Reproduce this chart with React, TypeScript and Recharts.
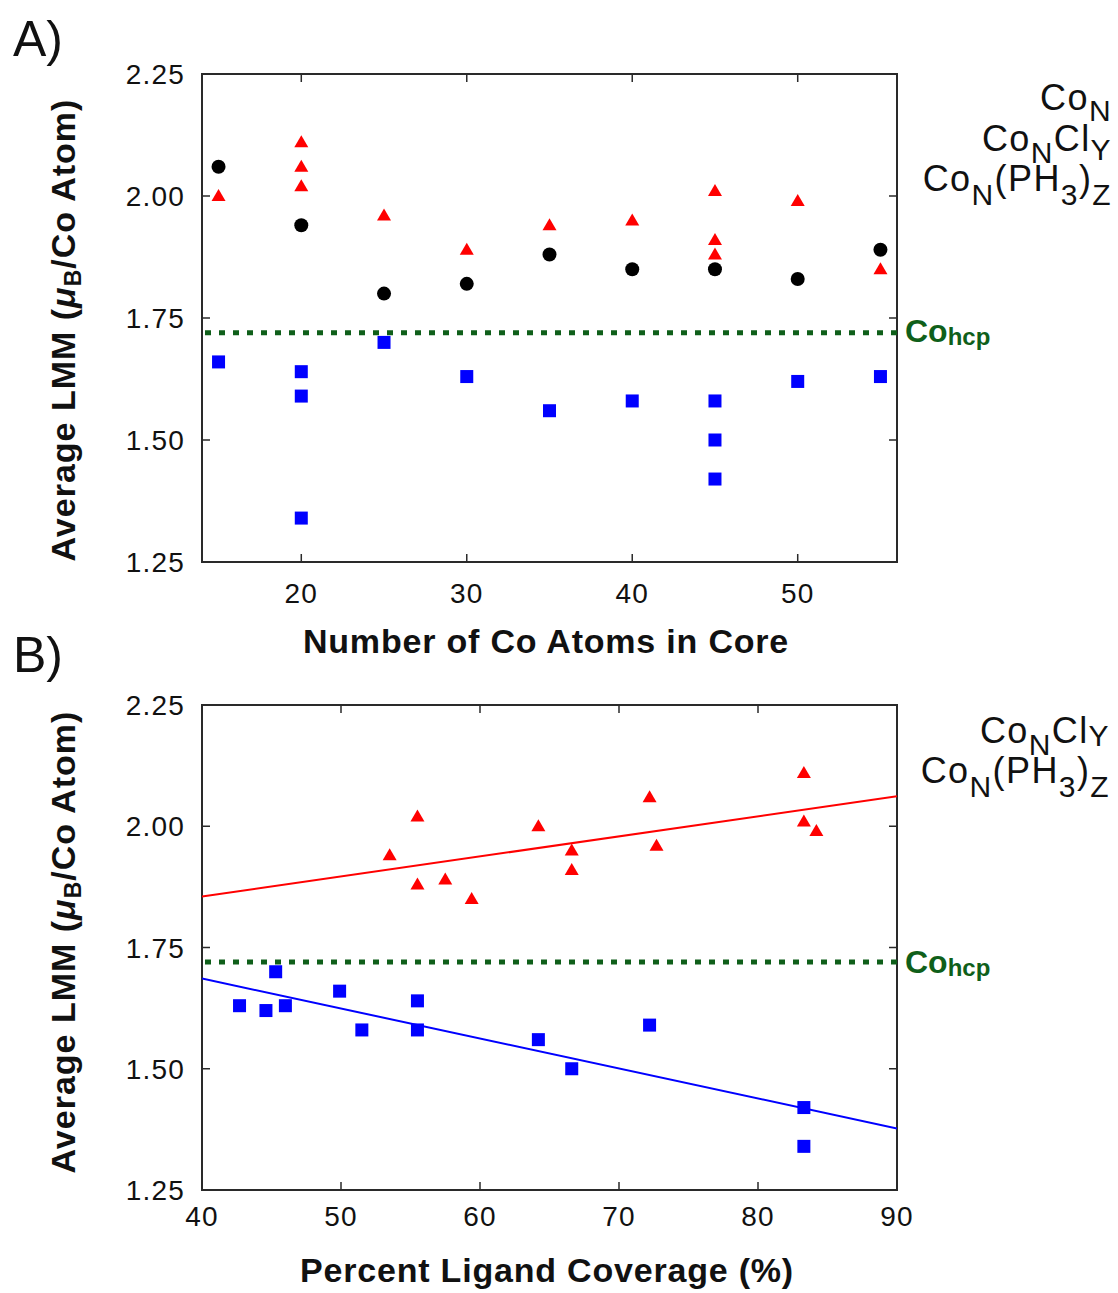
import React from 'react';
import { ReferenceArea, ReferenceLine, Scatter, ScatterChart, XAxis, YAxis } from 'recharts';

const FONT = '"Liberation Sans", Arial, Helvetica, sans-serif';

// shared y axis: average local magnetic moment (muB per Co atom)
const lmmTicks = [1.25, 1.5, 1.75, 2.0, 2.25];
const cobaltHcp = 1.72;

// panel A: LMM vs number of Co atoms in the core
const coreTicks = [20, 30, 40, 50];
const bareCore = [
  { n: 15, lmm: 2.06 }, { n: 20, lmm: 1.94 }, { n: 25, lmm: 1.80 }, { n: 30, lmm: 1.82 },
  { n: 35, lmm: 1.88 }, { n: 40, lmm: 1.85 }, { n: 45, lmm: 1.85 }, { n: 50, lmm: 1.83 },
  { n: 55, lmm: 1.89 },
];
const chlorideCore = [
  { n: 15, lmm: 2.00 }, { n: 20, lmm: 2.11 }, { n: 20, lmm: 2.06 }, { n: 20, lmm: 2.02 },
  { n: 25, lmm: 1.96 }, { n: 30, lmm: 1.89 }, { n: 35, lmm: 1.94 }, { n: 40, lmm: 1.95 },
  { n: 45, lmm: 2.01 }, { n: 45, lmm: 1.91 }, { n: 45, lmm: 1.88 }, { n: 50, lmm: 1.99 },
  { n: 55, lmm: 1.85 },
];
const phosphineCore = [
  { n: 15, lmm: 1.66 }, { n: 20, lmm: 1.64 }, { n: 20, lmm: 1.59 }, { n: 20, lmm: 1.34 },
  { n: 25, lmm: 1.70 }, { n: 30, lmm: 1.63 }, { n: 35, lmm: 1.56 }, { n: 40, lmm: 1.58 },
  { n: 45, lmm: 1.58 }, { n: 45, lmm: 1.50 }, { n: 45, lmm: 1.42 }, { n: 50, lmm: 1.62 },
  { n: 55, lmm: 1.63 },
];

// panel B: LMM vs percent ligand coverage
const coverageTicks = [40, 50, 60, 70, 80, 90];
const chlorideCoverage = [
  { cov: 53.5, lmm: 1.94 }, { cov: 55.5, lmm: 2.02 }, { cov: 55.5, lmm: 1.88 }, { cov: 57.5, lmm: 1.89 },
  { cov: 59.4, lmm: 1.85 }, { cov: 64.2, lmm: 2.00 }, { cov: 66.6, lmm: 1.95 }, { cov: 66.6, lmm: 1.91 },
  { cov: 72.2, lmm: 2.06 }, { cov: 72.7, lmm: 1.96 }, { cov: 83.3, lmm: 2.11 }, { cov: 83.3, lmm: 2.01 },
  { cov: 84.2, lmm: 1.99 },
];
const phosphineCoverage = [
  { cov: 42.7, lmm: 1.63 }, { cov: 44.6, lmm: 1.62 }, { cov: 45.3, lmm: 1.70 }, { cov: 46.0, lmm: 1.63 },
  { cov: 49.9, lmm: 1.66 }, { cov: 51.5, lmm: 1.58 }, { cov: 55.5, lmm: 1.64 }, { cov: 55.5, lmm: 1.58 },
  { cov: 64.2, lmm: 1.56 }, { cov: 66.6, lmm: 1.50 }, { cov: 72.2, lmm: 1.59 }, { cov: 83.3, lmm: 1.42 },
  { cov: 83.3, lmm: 1.34 },
];
const chlorideFit = [{ cov: 40, lmm: 1.855 }, { cov: 90, lmm: 2.062 }];
const phosphineFit = [{ cov: 40, lmm: 1.686 }, { cov: 90, lmm: 1.377 }];

const W = 1118;
const PLOT_LEFT = 202;
const PLOT_RIGHT = 897;
const FRAME = '#2a2a2a';
const GREEN = '#0f5f1a';

const dot = (p: any) => <circle cx={p.cx} cy={p.cy} r={7} fill="#000" />;
const tri = (p: any) => (
  <polygon points={`${p.cx},${p.cy - 7} ${p.cx + 7},${p.cy + 5} ${p.cx - 7},${p.cy + 5}`} fill="#ff0000" />
);
const sq = (p: any) => <rect x={p.cx - 6.5} y={p.cy - 6.5} width={13} height={13} fill="#0000ff" />;
const noMark = () => <g />;

interface PanelProps {
  top: number;
  height: number;
  plotTop: number;
  plotBottom: number;
  xKey: string;
  xDomain: [number, number];
  xTicks: number[];
  labelGap: number;
  children: React.ReactNode;
}

function Panel({ top, height, plotTop, plotBottom, xKey, xDomain, xTicks, labelGap, children }: PanelProps) {
  const xTick = (p: any) => (
    <g>
      <line x1={p.x} x2={p.x} y1={plotBottom} y2={plotBottom - 8} stroke={FRAME} strokeWidth={1.5} />
      <line x1={p.x} x2={p.x} y1={plotTop} y2={plotTop + 8} stroke={FRAME} strokeWidth={1.5} />
      <text x={p.x} y={plotBottom + labelGap} textAnchor="middle" fontSize={28} letterSpacing={1.2} fill="#111" fontFamily={FONT}>
        {p.payload.value}
      </text>
    </g>
  );
  const yTick = (p: any) => (
    <g>
      <line x1={PLOT_LEFT} x2={PLOT_LEFT + 8} y1={p.y} y2={p.y} stroke={FRAME} strokeWidth={1.5} />
      <line x1={PLOT_RIGHT} x2={PLOT_RIGHT - 8} y1={p.y} y2={p.y} stroke={FRAME} strokeWidth={1.5} />
      <text x={185} y={p.y + 10} textAnchor="end" fontSize={28} letterSpacing={1.2} fill="#111" fontFamily={FONT}>
        {Number(p.payload.value).toFixed(2)}
      </text>
    </g>
  );
  return (
    <div style={{ position: 'absolute', left: 0, top }}>
      <ScatterChart
        width={W}
        height={height}
        margin={{ top: plotTop, right: W - PLOT_RIGHT, bottom: height - plotBottom - 60, left: PLOT_LEFT - 100 }}
      >
        <XAxis
          type="number"
          dataKey={xKey}
          domain={xDomain}
          ticks={xTicks}
          interval={0}
          height={60}
          axisLine={false}
          tickLine={false}
          tick={xTick}
          allowDataOverflow
        />
        <YAxis
          type="number"
          dataKey="lmm"
          domain={[1.25, 2.25]}
          ticks={lmmTicks}
          interval={0}
          width={100}
          axisLine={false}
          tickLine={false}
          tick={yTick}
          allowDataOverflow
        />
        <ReferenceArea
          x1={xDomain[0]}
          x2={xDomain[1]}
          y1={1.25}
          y2={2.25}
          fill="none"
          fillOpacity={0}
          stroke={FRAME}
          strokeWidth={2}
          ifOverflow="visible"
        />
        <ReferenceLine y={cobaltHcp} stroke={GREEN} strokeWidth={5} strokeDasharray="6 8" strokeDashoffset={-3} />
        {children}
      </ScatterChart>
    </div>
  );
}

export default function App() {
  const sub = { fontSize: 30 };
  return (
    <div style={{ position: 'absolute', left: 0, top: 0, width: W, height: 1293, background: '#fff', fontFamily: FONT }}>
      <Panel top={0} height={640} plotTop={74} plotBottom={562} xKey="n" xDomain={[14, 56]} xTicks={coreTicks} labelGap={41}>
        <Scatter data={chlorideCore} shape={tri} isAnimationActive={false} />
        <Scatter data={bareCore} shape={dot} isAnimationActive={false} />
        <Scatter data={phosphineCore} shape={sq} isAnimationActive={false} />
      </Panel>
      <Panel top={630} height={663} plotTop={75} plotBottom={560} xKey="cov" xDomain={[40, 90]} xTicks={coverageTicks} labelGap={36}>
        <Scatter data={chlorideFit} shape={noMark} line={{ stroke: '#ff0000', strokeWidth: 2 }} isAnimationActive={false} />
        <Scatter data={phosphineFit} shape={noMark} line={{ stroke: '#0000ff', strokeWidth: 2 }} isAnimationActive={false} />
        <Scatter data={chlorideCoverage} shape={tri} isAnimationActive={false} />
        <Scatter data={phosphineCoverage} shape={sq} isAnimationActive={false} />
      </Panel>

      <svg width={W} height={1293} style={{ position: 'absolute', left: 0, top: 0, pointerEvents: 'none' }} fontFamily={FONT}>
        <text x={13} y={56} fontSize={50} fill="#111">A)</text>
        <text x={13} y={672} fontSize={50} fill="#111">B)</text>

        <text x={546} y={653} textAnchor="middle" fontSize={34} fontWeight="bold" letterSpacing={0.8} fill="#111">
          Number of Co Atoms in Core
        </text>
        <text x={547} y={1282} textAnchor="middle" fontSize={34} fontWeight="bold" letterSpacing={0.8} fill="#111">
          Percent Ligand Coverage (%)
        </text>

        <text transform="translate(75, 330) rotate(-90)" textAnchor="middle" fontSize={34} fontWeight="bold" letterSpacing={1} fill="#111">
          Average LMM (<tspan fontStyle="italic">μ</tspan><tspan fontSize={23} dy={6}>B</tspan><tspan dy={-6}>/Co Atom)</tspan>
        </text>
        <text transform="translate(75, 942) rotate(-90)" textAnchor="middle" fontSize={34} fontWeight="bold" letterSpacing={1} fill="#111">
          Average LMM (<tspan fontStyle="italic">μ</tspan><tspan fontSize={23} dy={6}>B</tspan><tspan dy={-6}>/Co Atom)</tspan>
        </text>

        <text x={905} y={342} fontSize={32} fontWeight="bold" fill={GREEN}>
          Co<tspan fontSize={24} dy={3}>hcp</tspan>
        </text>
        <text x={905} y={973} fontSize={32} fontWeight="bold" fill={GREEN}>
          Co<tspan fontSize={24} dy={3}>hcp</tspan>
        </text>

        <g fontSize={36} fill="#111" textAnchor="end" letterSpacing={1.4}>
          <text x={1112} y={110}>
            Co<tspan {...sub} dy={11}>N</tspan>
          </text>
          <text x={1112} y={151}>
            Co<tspan {...sub} dy={12}>N</tspan><tspan dy={-12}>Cl</tspan><tspan {...sub} dy={9}>Y</tspan>
          </text>
          <text x={1112} y={191}>
            Co<tspan {...sub} dy={14}>N</tspan><tspan dy={-14}>(PH</tspan><tspan {...sub} dy={14}>3</tspan>
            <tspan dy={-14}>)</tspan><tspan {...sub} dy={14}>Z</tspan>
          </text>
          <text x={1110} y={743}>
            Co<tspan {...sub} dy={12}>N</tspan><tspan dy={-12}>Cl</tspan><tspan {...sub} dy={3}>Y</tspan>
          </text>
          <text x={1110} y={783}>
            Co<tspan {...sub} dy={14}>N</tspan><tspan dy={-14}>(PH</tspan><tspan {...sub} dy={14}>3</tspan>
            <tspan dy={-14}>)</tspan><tspan {...sub} dy={14}>Z</tspan>
          </text>
        </g>
      </svg>
    </div>
  );
}
